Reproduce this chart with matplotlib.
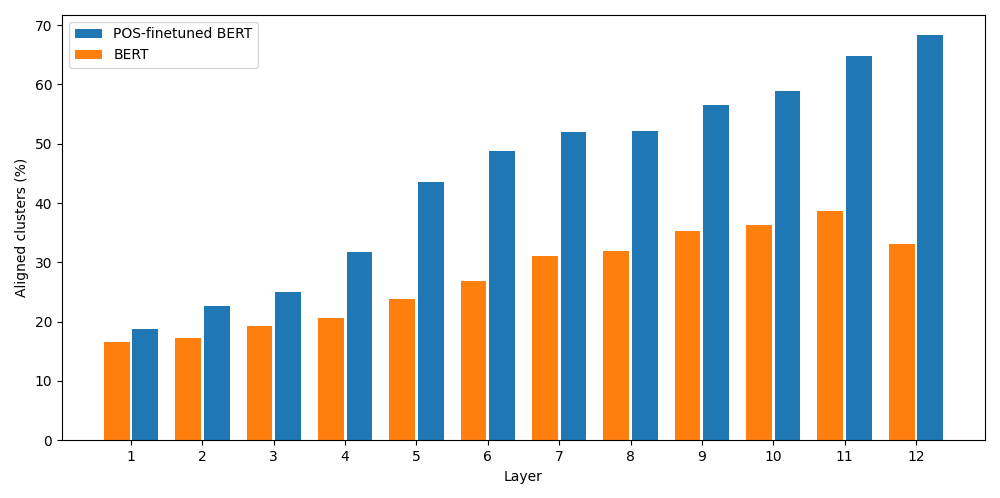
import matplotlib
matplotlib.use('Agg')
import matplotlib.pyplot as plt
import numpy as np

# values
layers = [1, 2, 3, 4, 5, 6, 7, 8, 9, 10, 11, 12]
pos_bert = [18.7, 22.6, 25.0, 31.7, 43.5, 48.7, 51.9, 52.1, 56.5, 58.9, 64.8, 68.3]
bert = [16.5, 17.2, 19.2, 20.6, 23.8, 26.8, 31.0, 31.9, 35.2, 36.3, 38.6, 33.1]

x = np.array(layers)
w = 0.36

fig, ax = plt.subplots(1, 1, figsize=(10, 4.98), dpi=100)
ax.bar(x + 0.2, pos_bert, width=w, color='C0', label='POS-finetuned BERT')
ax.bar(x - 0.2, bert, width=w, color='C1', label='BERT')

ax.set_xticks(x)
ax.set_xlabel('Layer')
ax.set_ylabel('Aligned clusters (%)')
ax.legend(loc='upper left')

fig.subplots_adjust(left=0.062, right=0.985, top=0.97, bottom=0.116)
fig.savefig('out.png')
